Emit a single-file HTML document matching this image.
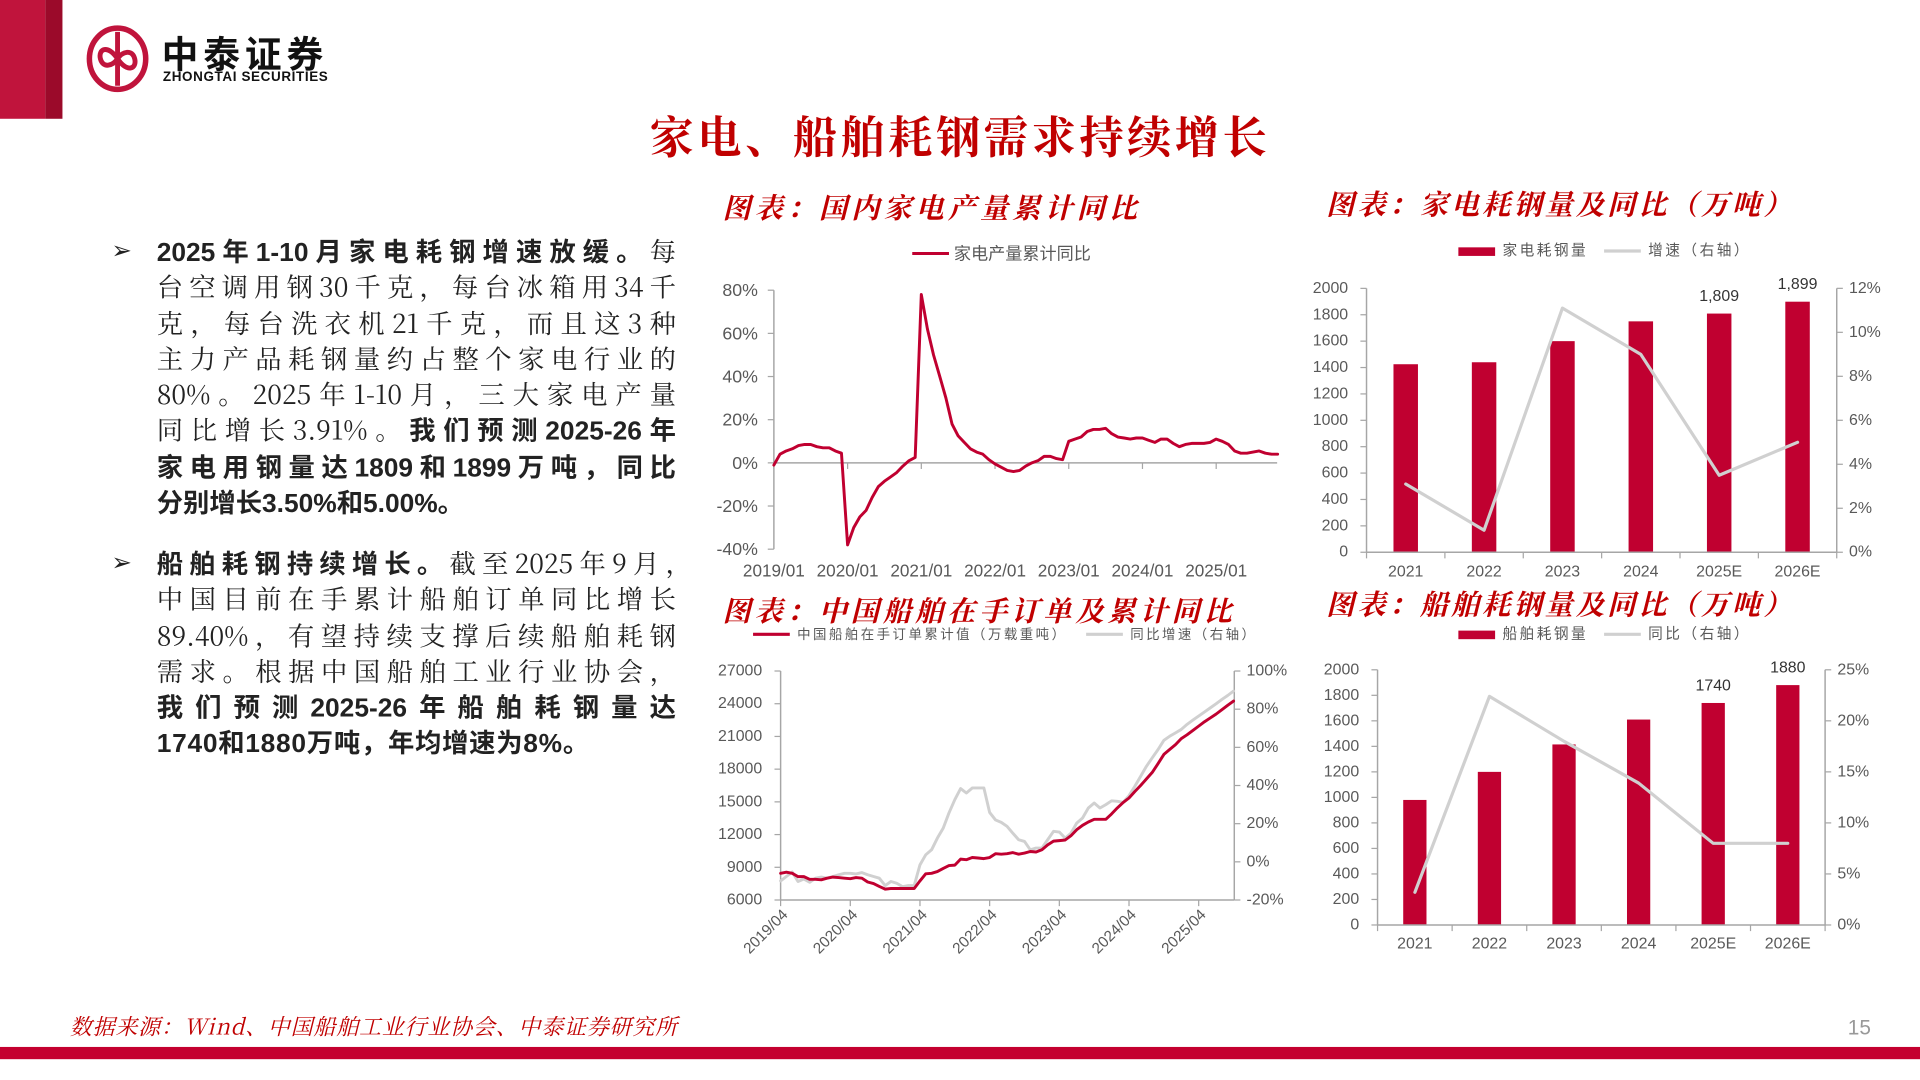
<!DOCTYPE html>
<html><head><meta charset="utf-8">
<style>
html,body{margin:0;padding:0;background:#fff;width:1920px;height:1080px;overflow:hidden}
#page{position:absolute;left:0;top:0;width:1568px;height:882px;transform:scale(1.22449);transform-origin:0 0;font-family:"Liberation Sans","Noto Sans CJK SC",sans-serif}
.abs{position:absolute}
.ctitle{position:absolute;font-family:"Liberation Serif","Noto Serif CJK SC",serif;font-style:italic;font-weight:bold;color:#C00000;font-size:23px;letter-spacing:2.5px;white-space:nowrap}
.body{position:absolute;left:128px;width:424px;font-family:"Noto Serif CJK SC",serif;font-size:21.5px;line-height:29.3px;color:#222}
.ln{display:block;height:29.3px;overflow:visible;text-align:justify;text-align-last:justify;white-space:nowrap}
.ln.last{text-align-last:left}
b{font-weight:bold;font-family:"Liberation Sans","Noto Sans CJK SC",sans-serif}
.bul{position:absolute;left:91px;font-family:"DejaVu Sans",sans-serif;font-size:20px;color:#222}
svg text{font-family:"Liberation Sans","Noto Sans CJK SC",sans-serif}
</style></head><body>
<div id="page">
 <div class="abs" style="left:0;top:0;width:37px;height:97px;background:#C0143C"></div>
 <div class="abs" style="left:37px;top:0;width:14px;height:97px;background:#9B0A2A"></div>
 <svg class="abs" style="left:68px;top:20px" width="56" height="56" viewBox="0 0 56 56">
  <ellipse cx="28" cy="28" rx="23" ry="25" fill="none" stroke="#C0143C" stroke-width="4.5"/>
  <path d="M28 6 V50" stroke="#C0143C" stroke-width="4"/>
  <path d="M28 28 C20 16 12 20 14 28 C16 36 24 34 28 28 C32 22 40 20 42 28 C44 36 36 40 28 28" fill="none" stroke="#C0143C" stroke-width="4"/>
 </svg>
 <div class="abs" style="left:132px;top:24px;font-size:30px;font-weight:bold;color:#111;letter-spacing:4px;font-family:'Noto Sans CJK SC',sans-serif;line-height:36px">中泰证券</div>
 <div class="abs" style="left:133px;top:57px;font-size:11px;font-weight:bold;color:#111;letter-spacing:0.5px">ZHONGTAI SECURITIES</div>

 <div class="abs" style="left:0;width:1568px;top:88px;text-align:center;font-family:'Liberation Serif','Noto Serif CJK SC',serif;font-size:36px;font-weight:bold;color:#C00000;letter-spacing:3px;line-height:50px">家电、船舶耗钢需求持续增长</div>

 <div class="bul" style="top:192px">➢</div>
 <div class="body" style="top:190px">
  <span class="ln"><b>2025年1-10月家电耗钢增速放缓。</b>每</span>
  <span class="ln">台空调用钢30千克，每台冰箱用34千</span>
  <span class="ln">克，每台洗衣机21千克，而且这3种</span>
  <span class="ln">主力产品耗钢量约占整个家电行业的</span>
  <span class="ln">80%。2025年1-10月，三大家电产量</span>
  <span class="ln">同比增长3.91%。<b>我们预测2025-26年</b></span>
  <span class="ln"><b>家电用钢量达1809和1899万吨，同比</b></span>
  <span class="ln last"><b>分别增长3.50%和5.00%。</b></span>
 </div>
 <div class="bul" style="top:447px">➢</div>
 <div class="body" style="top:445px">
  <span class="ln" style="width:437px"><b>船舶耗钢持续增长。</b>截至2025年9月，</span>
  <span class="ln">中国目前在手累计船舶订单同比增长</span>
  <span class="ln">89.40%，有望持续支撑后续船舶耗钢</span>
  <span class="ln">需求。根据中国船舶工业行业协会，</span>
  <span class="ln"><b>我们预测2025-26年船舶耗钢量达</b></span>
  <span class="ln last"><b style="letter-spacing:0.6px">1740和1880万吨，年均增速为8%。</b></span>
 </div>

 <div class="ctitle" style="left:590px;top:152px;letter-spacing:3.3px">图表：国内家电产量累计同比</div>
 <div class="ctitle" style="left:1083px;top:149px">图表：家电耗钢量及同比（万吨）</div>
 <div class="ctitle" style="left:590px;top:481px;letter-spacing:3.2px">图表：中国船舶在手订单及累计同比</div>
 <div class="ctitle" style="left:1083px;top:476px">图表：船舶耗钢量及同比（万吨）</div>

 <svg id="charts" class="abs" style="left:0;top:0" width="1568" height="882"></svg>

 <div class="abs" style="left:57px;top:825px;font-family:'Noto Serif CJK SC',serif;font-style:italic;font-size:18px;letter-spacing:0.6px;color:#C00000">数据来源：Wind、中国船舶工业行业协会、中泰证券研究所</div>
 <div class="abs" style="left:1509px;top:830px;font-size:17px;color:#999">15</div>
 <div class="abs" style="left:0;top:855px;width:1568px;height:10px;background:#C4002F"></div>
</div>
<script>
// ---- Chart 1 data: 家电产量累计同比 (%), monthly from 2019/01
const c1Values = [-1,4,5.5,6.5,8,8.5,8.5,7.5,7,7,5.5,4.5,-38,-30,-25,-22,-16,-11,-8.5,-6.5,-4.5,-1.5,1,2.5,78,62,50,40,30,18,12.5,9.5,6.5,5,4,1.5,-0.5,-2,-3.5,-4,-3.5,-1.5,0,1,3,3,2,1.5,10,11,12,14.5,15.5,15.5,16,13.5,12,11.5,11,11.5,11.5,10.5,9.5,11,11,9,7.5,8.5,9,9,9,9.5,11,10,8.5,5.5,4.5,4.5,5,5.5,4.5,4,4];
const c1TickLabels = ['2019/01','2020/01','2021/01','2022/01','2023/01','2024/01','2025/01'];
const c1YTicks = [80,60,40,20,0,-20,-40];
// ---- Chart 2 data: 家电耗钢量
const c2Cats = ['2021','2022','2023','2024','2025E','2026E'];
const c2Bars = [1425,1440,1600,1750,1809,1899];
const c2Growth = [3.1,1.0,11.1,9.0,3.5,5.0];
const c2BarLabels = ['','','','','1,809','1,899'];
const c2YTicks = [0,200,400,600,800,1000,1200,1400,1600,1800,2000];
const c2RTicks = [0,2,4,6,8,10,12];
// ---- Chart 3 data: 船舶在手订单 monthly from 2019/04
const c3Orders = [8450,8550,8450,8150,8150,7900,7900,7850,8000,8100,8050,8000,7950,8050,8000,7650,7500,7250,7000,7050,7050,7050,7050,7050,7750,8400,8450,8600,8900,9150,9200,9750,9700,9900,9850,9800,9900,10250,10200,10250,10350,10200,10300,10450,10400,10600,11050,11400,11450,11500,11900,12450,12850,13150,13400,13400,13400,13900,14450,14950,15350,15950,16500,17100,17700,18500,19350,19800,20250,20800,21150,21550,21950,22350,22700,23050,23450,23850,24250];
const c3Yoy = [-10,-7.7,-5.4,-10.3,-9,-10.7,-8.6,-8,-8.6,-7.7,-6.8,-6,-6,-6.3,-5.6,-6.8,-7.7,-8.6,-12.4,-10.3,-11.2,-13,-12.4,-12.4,-1.6,3.7,6.3,12.4,17.7,25.6,32.6,38.4,36.1,38.7,38.7,38.7,25.9,22,20.7,18.6,15,11.6,10.7,6.3,7.2,7.2,11.6,16,15.6,12.4,15,20.3,23,28.2,30.8,28.2,30,32,31.7,31.2,34.7,39.6,44.8,50,54.5,58.8,63.7,65.8,67.6,69.4,72,74.3,76.4,78.6,80.7,82.8,85.1,87.2,89.5];
const c3TickLabels = ['2019/04','2020/04','2021/04','2022/04','2023/04','2024/04','2025/04'];
const c3YTicks = [6000,9000,12000,15000,18000,21000,24000,27000];
const c3RTicks = [-20,0,20,40,60,80,100];
// ---- Chart 4 data: 船舶耗钢量
const c4Cats = ['2021','2022','2023','2024','2025E','2026E'];
const c4Bars = [980,1200,1415,1610,1740,1880];
const c4Growth = [3.2,22.4,18.0,13.9,8.0,8.0];
const c4BarLabels = ['','','','','1740','1880'];
const c4YTicks = [0,200,400,600,800,1000,1200,1400,1600,1800,2000];
const c4RTicks = [0,5,10,15,20,25];

const NS='http://www.w3.org/2000/svg';
const root=document.getElementById('charts');
const RED='#C00030', GRAY='#D0D0D0', AX='#A6A6A6', TX='#595959';
function mk(tag,attrs,parent,txt){const e=document.createElementNS(NS,tag);for(const k in attrs)e.setAttribute(k,attrs[k]);if(txt!==undefined)e.textContent=txt;(parent||root).appendChild(e);return e;}
function grp(name){const g=mk('g',{});


return g;}
function txt(g,x,y,s,size,anchor,name,extra){const t=mk('text',Object.assign({x:x,y:y,'font-size':size,fill:TX,'text-anchor':anchor,'dominant-baseline':'central'},extra||{}),g,s);


return t;}
function path(g,pts,color,w,name){const d=pts.map((p,i)=>(i?'L':'M')+p[0].toFixed(1)+' '+p[1].toFixed(1)).join(' ');const p=mk('path',{d:d,fill:'none',stroke:color,'stroke-width':w,'stroke-linejoin':'round','stroke-linecap':'round'},g);


return p;}
function line(g,x1,y1,x2,y2,c,w,name){const l=mk('line',{x1:x1,y1:y1,x2:x2,y2:y2,stroke:c,'stroke-width':w},g);


return l;}
function legendText(g,x,y,s,size,name){return txt(g,x,y,s,size,'start',name,{'font-family':'"Liberation Serif","Noto Serif CJK SC",serif','letter-spacing':'2'});}

// ===== Chart 1 =====
(function(){
 const g=grp('chart1-appliance-output-yoy');
 const x=m=>632+m*5.017, y=v=>378-v*1.7625;
 line(g,632,y(80),632,y(-40),AX,1.2,'chart1-y-axis');
 line(g,632,y(0),1043,y(0),AX,1.2,'chart1-x-axis');
 c1YTicks.forEach(v=>{line(g,627,y(v),632,y(v),AX,1,'chart1-y-tick');txt(g,619,y(v),v+'%',14.5,'end','chart1-y-label');});
 c1TickLabels.forEach((s,i)=>{line(g,x(i*12),y(0),x(i*12),y(0)+5,AX,1,'chart1-x-tick');txt(g,x(i*12),466,s,14,'middle','chart1-x-label');});
 path(g,c1Values.map((v,i)=>[x(i),y(v)]),RED,2.4,'chart1-series-line');
 line(g,745,207,775,207,RED,2.5,'chart1-legend-swatch');
 txt(g,779,207,'家电产量累计同比',14,'start','chart1-legend-label');
})();

// ===== Chart 2 =====
(function(){
 const g=grp('chart2-appliance-steel');
 const L=1116,R=1500,cw=(R-L)/6;
 const cx=i=>L+cw*(i+0.5), yL=v=>451-v*0.10775, yR=v=>451-v*17.96;
 line(g,L,yL(2000),L,451,AX,1.2,'chart2-left-axis');
 line(g,R,yR(12),R,451,AX,1.2,'chart2-right-axis');
 c2YTicks.forEach(v=>{line(g,L-5,yL(v),L,yL(v),AX,1,'chart2-left-tick');txt(g,L-15,yL(v),String(v),13,'end','chart2-left-label');});
 c2RTicks.forEach(v=>{line(g,R,yR(v),R+5,yR(v),AX,1,'chart2-right-tick');txt(g,R+10,yR(v),v+'%',13,'start','chart2-right-label');});
 c2Bars.forEach((v,i)=>{const r=mk('rect',{x:cx(i)-10,y:yL(v),width:20,height:451-yL(v),fill:RED},g);
  
  
  if(c2BarLabels[i])txt(g,cx(i),yL(v)-14,c2BarLabels[i],13,'middle','chart2-bar-value',{fill:'#333'});});
 line(g,L,451,R,451,AX,1.2,'chart2-x-axis');
 for(let i=0;i<=6;i++)line(g,L+cw*i,451,L+cw*i,456,AX,1,'chart2-x-tick');
 c2Cats.forEach((s,i)=>txt(g,cx(i),467,s,13,'middle','chart2-x-label'));
 path(g,c2Growth.map((v,i)=>[cx(i),yR(v)]),GRAY,2.6,'chart2-growth-line');
 const r=mk('rect',{x:1191,y:202,width:30,height:7,fill:RED},g);
 
 
 legendText(g,1227,205,'家电耗钢量',12,'chart2-legend-bar-label');
 line(g,1310,205,1340,205,GRAY,2.6,'chart2-legend-line-swatch');
 legendText(g,1346,205,'增速（右轴）',12,'chart2-legend-line-label');
})();

// ===== Chart 3 =====
(function(){
 const g=grp('chart3-ship-orders');
 const L=637.5,R=1008;
 const x=m=>L+m*4.742, yL=v=>735-(v-6000)*0.008905, yR=v=>735-(v+20)*1.5583;
 line(g,L,548,L,735,AX,1.2,'chart3-left-axis');
 line(g,R,548,R,735,AX,1.2,'chart3-right-axis');
 line(g,L,735,R,735,AX,1.2,'chart3-x-axis');
 c3YTicks.forEach(v=>{line(g,L-5,yL(v),L,yL(v),AX,1,'chart3-left-tick');txt(g,L-15,yL(v),String(v),13,'end','chart3-left-label');});
 c3RTicks.forEach(v=>{line(g,R,yR(v),R+5,yR(v),AX,1,'chart3-right-tick');txt(g,R+10,yR(v),v+'%',13,'start','chart3-right-label');});
 c3TickLabels.forEach((s,i)=>{const xx=x(i*12);line(g,xx,735,xx,740,AX,1,'chart3-x-tick');
  txt(g,xx+4,745,s,12.5,'end','chart3-x-label',{transform:'rotate(-45 '+(xx+4)+' 745)'});});
 path(g,c3Yoy.map((v,i)=>[x(i),yR(v)]),GRAY,2.4,'chart3-yoy-line');
 path(g,c3Orders.map((v,i)=>[x(i),yL(v)]),RED,2.4,'chart3-orders-line');
 line(g,615,518,645,518,RED,2.6,'chart3-legend-orders-swatch');
 legendText(g,651,518,'中国船舶在手订单累计值（万载重吨）',11,'chart3-legend-orders-label');
 line(g,887,518,917,518,GRAY,2.6,'chart3-legend-yoy-swatch');
 legendText(g,923,518,'同比增速（右轴）',11,'chart3-legend-yoy-label');
})();

// ===== Chart 4 =====
(function(){
 const g=grp('chart4-ship-steel');
 const L=1125,R=1490.5,cw=(R-L)/6,B=755.4;
 const cx=i=>L+cw*(i+0.5), yL=v=>B-v*0.1042, yR=v=>B-v*8.336;
 line(g,L,yL(2000),L,B,AX,1.2,'chart4-left-axis');
 line(g,R,yR(25),R,B,AX,1.2,'chart4-right-axis');
 c4YTicks.forEach(v=>{line(g,L-5,yL(v),L,yL(v),AX,1,'chart4-left-tick');txt(g,L-15,yL(v),String(v),13,'end','chart4-left-label');});
 c4RTicks.forEach(v=>{line(g,R,yR(v),R+5,yR(v),AX,1,'chart4-right-tick');txt(g,R+10,yR(v),v+'%',13,'start','chart4-right-label');});
 c4Bars.forEach((v,i)=>{const r=mk('rect',{x:cx(i)-9.5,y:yL(v),width:19,height:B-yL(v),fill:RED},g);
  
  
  if(c4BarLabels[i])txt(g,cx(i),yL(v)-14,c4BarLabels[i],13,'middle','chart4-bar-value',{fill:'#333'});});
 line(g,L,B,R,B,AX,1.2,'chart4-x-axis');
 for(let i=0;i<=6;i++)line(g,L+cw*i,B,L+cw*i,B+5,AX,1,'chart4-x-tick');
 c4Cats.forEach((s,i)=>txt(g,cx(i),771,s,13,'middle','chart4-x-label'));
 path(g,c4Growth.map((v,i)=>[cx(i),yR(v)]),GRAY,2.6,'chart4-growth-line');
 const r=mk('rect',{x:1191,y:515,width:30,height:7,fill:RED},g);
 
 
 legendText(g,1227,518,'船舶耗钢量',12,'chart4-legend-bar-label');
 line(g,1310,518,1340,518,GRAY,2.6,'chart4-legend-line-swatch');
 legendText(g,1346,518,'同比（右轴）',12,'chart4-legend-line-label');
})();
</script>
</body></html>
